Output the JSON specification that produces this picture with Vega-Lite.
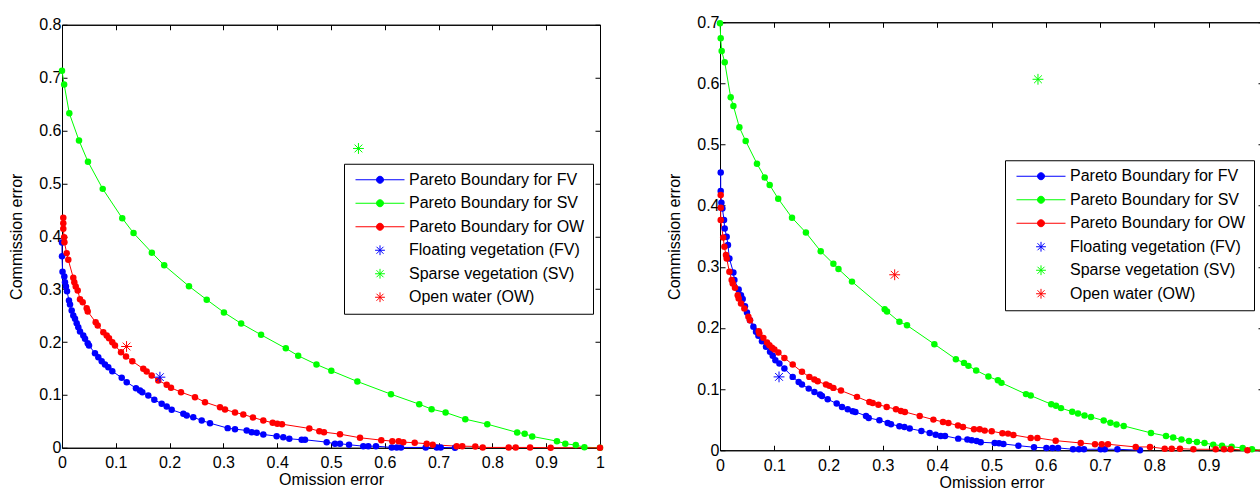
{
"$schema":"https://vega.github.io/schema/vega-lite/v6.json",
"background":"white",
"padding":{"left":8,"top":13,"right":0,"bottom":0},
"config":{
"font":"Liberation Sans",
"view":{"stroke":"black","strokeWidth":1},
"axis":{"grid":false,"labelFont":"Liberation Sans","labelFontSize":16,"labelColor":"black","titleFont":"Liberation Sans","titleFontSize":16,"titleFontWeight":"normal","titleColor":"black","domainColor":"black","tickColor":"black","tickSize":-5,"format":"~g","labelFlush":false,"labelOverlap":false},
"axisX":{"labelPadding":12,"titlePadding":1},
"axisY":{"labelPadding":6,"titlePadding":14},
"legend":{"labelFont":"Liberation Sans","labelFontSize":16,"labelColor":"black","labelLimit":400,"strokeColor":"black","fillColor":"white","padding":8,"rowPadding":7.5,"symbolSize":196,"symbolOffset":20,"labelOffset":21,"symbolStrokeWidth":1}
},
"datasets":{
"left":[
{"s":"PFV","x":0,"y":0.388},{"s":"PFV","x":0,"y":0.362},{"s":"PFV","x":0.001,"y":0.333},{"s":"PFV","x":0.0043,"y":0.3238},{"s":"PFV","x":0.0056,"y":0.313},{"s":"PFV","x":0.0074,"y":0.305},{"s":"PFV","x":0.0093,"y":0.296},{"s":"PFV","x":0.013,"y":0.2785},{"s":"PFV","x":0.0149,"y":0.2709},{"s":"PFV","x":0.018,"y":0.2595},{"s":"PFV","x":0.021,"y":0.2501},{"s":"PFV","x":0.0242,"y":0.2439},{"s":"PFV","x":0.0273,"y":0.2355},{"s":"PFV","x":0.0303,"y":0.228},{"s":"PFV","x":0.0335,"y":0.2198},{"s":"PFV","x":0.0396,"y":0.2122},{"s":"PFV","x":0.0428,"y":0.206},{"s":"PFV","x":0.0478,"y":0.1977},{"s":"PFV","x":0.0502,"y":0.1934},{"s":"PFV","x":0.0613,"y":0.1788},{"s":"PFV","x":0.0675,"y":0.1713},{"s":"PFV","x":0.0738,"y":0.1637},{"s":"PFV","x":0.0799,"y":0.1575},{"s":"PFV","x":0.0861,"y":0.1524},{"s":"PFV","x":0.0935,"y":0.1448},{"s":"PFV","x":0.111,"y":0.1323},{"s":"PFV","x":0.1203,"y":0.124},{"s":"PFV","x":0.1375,"y":0.1127},{"s":"PFV","x":0.145,"y":0.1083},{"s":"PFV","x":0.1493,"y":0.1051},{"s":"PFV","x":0.1604,"y":0.0989},{"s":"PFV","x":0.1716,"y":0.0907},{"s":"PFV","x":0.1853,"y":0.0832},{"s":"PFV","x":0.1946,"y":0.0781},{"s":"PFV","x":0.2039,"y":0.0718},{"s":"PFV","x":0.2255,"y":0.0643},{"s":"PFV","x":0.2318,"y":0.0611},{"s":"PFV","x":0.244,"y":0.0578},{"s":"PFV","x":0.2597,"y":0.0516},{"s":"PFV","x":0.2751,"y":0.0465},{"s":"PFV","x":0.308,"y":0.0371},{"s":"PFV","x":0.3216,"y":0.0352},{"s":"PFV","x":0.3433,"y":0.0327},{"s":"PFV","x":0.3526,"y":0.0295},{"s":"PFV","x":0.3619,"y":0.0284},{"s":"PFV","x":0.3742,"y":0.0251},{"s":"PFV","x":0.399,"y":0.0219},{"s":"PFV","x":0.4113,"y":0.02},{"s":"PFV","x":0.4225,"y":0.017},{"s":"PFV","x":0.4455,"y":0.0151},{"s":"PFV","x":0.4517,"y":0.0151},{"s":"PFV","x":0.492,"y":0.0106},{"s":"PFV","x":0.5074,"y":0.0076},{"s":"PFV","x":0.5167,"y":0.0076},{"s":"PFV","x":0.5335,"y":0.0057},{"s":"PFV","x":0.56,"y":0.003},{"s":"PFV","x":0.5693,"y":0.003},{"s":"PFV","x":0.5836,"y":0.003},{"s":"PFV","x":0.6128,"y":0.0006},{"s":"PFV","x":0.6221,"y":0.0006},{"s":"PFV","x":0.6301,"y":0.0006},{"s":"PFV","x":0.676,"y":0.0006},{"s":"PFV","x":0.6965,"y":0.0006},{"s":"PFV","x":0.7039,"y":0.0006},{"s":"PFV","x":0.7305,"y":0},
{"s":"PSV","x":0,"y":0.713},{"s":"PSV","x":0.004,"y":0.687},{"s":"PSV","x":0.0136,"y":0.6325},{"s":"PSV","x":0.0316,"y":0.581},{"s":"PSV","x":0.0483,"y":0.541},{"s":"PSV","x":0.0757,"y":0.4896},{"s":"PSV","x":0.112,"y":0.434},{"s":"PSV","x":0.133,"y":0.406},{"s":"PSV","x":0.167,"y":0.369},{"s":"PSV","x":0.19,"y":0.345},{"s":"PSV","x":0.236,"y":0.3055},{"s":"PSV","x":0.269,"y":0.28},{"s":"PSV","x":0.301,"y":0.256},{"s":"PSV","x":0.333,"y":0.235},{"s":"PSV","x":0.37,"y":0.2136},{"s":"PSV","x":0.416,"y":0.188},{"s":"PSV","x":0.439,"y":0.174},{"s":"PSV","x":0.473,"y":0.1575},{"s":"PSV","x":0.5006,"y":0.1456},{"s":"PSV","x":0.549,"y":0.1253},{"s":"PSV","x":0.6115,"y":0.1013},{"s":"PSV","x":0.664,"y":0.0824},{"s":"PSV","x":0.687,"y":0.073},{"s":"PSV","x":0.713,"y":0.0667},{"s":"PSV","x":0.7496,"y":0.054},{"s":"PSV","x":0.7905,"y":0.0446},{"s":"PSV","x":0.846,"y":0.029},{"s":"PSV","x":0.86,"y":0.0265},{"s":"PSV","x":0.874,"y":0.0214},{"s":"PSV","x":0.92,"y":0.0125},{"s":"PSV","x":0.9355,"y":0.0076},{"s":"PSV","x":0.955,"y":0.005},{"s":"PSV","x":0.971,"y":0.001},{"s":"PSV","x":1,"y":0},
{"s":"POW","x":0.0024,"y":0.4348},{"s":"POW","x":0.0024,"y":0.4246},{"s":"POW","x":0.0024,"y":0.414},{"s":"POW","x":0.004,"y":0.398},{"s":"POW","x":0.0045,"y":0.3887},{"s":"POW","x":0.0087,"y":0.368},{"s":"POW","x":0.0117,"y":0.3554},{"s":"POW","x":0.021,"y":0.3214},{"s":"POW","x":0.0229,"y":0.313},{"s":"POW","x":0.0255,"y":0.305},{"s":"POW","x":0.0292,"y":0.2974},{"s":"POW","x":0.0335,"y":0.281},{"s":"POW","x":0.0385,"y":0.2752},{"s":"POW","x":0.0459,"y":0.2639},{"s":"POW","x":0.0478,"y":0.2577},{"s":"POW","x":0.0626,"y":0.2374},{"s":"POW","x":0.0664,"y":0.2312},{"s":"POW","x":0.0768,"y":0.2185},{"s":"POW","x":0.0831,"y":0.2123},{"s":"POW","x":0.0874,"y":0.2072},{"s":"POW","x":0.0935,"y":0.1996},{"s":"POW","x":0.0985,"y":0.1934},{"s":"POW","x":0.1097,"y":0.1807},{"s":"POW","x":0.119,"y":0.1726},{"s":"POW","x":0.1307,"y":0.1637},{"s":"POW","x":0.1511,"y":0.1493},{"s":"POW","x":0.1574,"y":0.1442},{"s":"POW","x":0.1667,"y":0.1367},{"s":"POW","x":0.179,"y":0.1272},{"s":"POW","x":0.1946,"y":0.1191},{"s":"POW","x":0.2026,"y":0.1134},{"s":"POW","x":0.2212,"y":0.1051},{"s":"POW","x":0.2472,"y":0.0957},{"s":"POW","x":0.2658,"y":0.0862},{"s":"POW","x":0.2937,"y":0.0768},{"s":"POW","x":0.303,"y":0.0724},{"s":"POW","x":0.3216,"y":0.0667},{"s":"POW","x":0.337,"y":0.063},{"s":"POW","x":0.355,"y":0.0573},{"s":"POW","x":0.3742,"y":0.0516},{"s":"POW","x":0.3916,"y":0.0473},{"s":"POW","x":0.4002,"y":0.0454},{"s":"POW","x":0.4089,"y":0.0446},{"s":"POW","x":0.4597,"y":0.0365},{"s":"POW","x":0.4783,"y":0.0314},{"s":"POW","x":0.487,"y":0.0295},{"s":"POW","x":0.5167,"y":0.0257},{"s":"POW","x":0.5539,"y":0.0189},{"s":"POW","x":0.5935,"y":0.0144},{"s":"POW","x":0.614,"y":0.0125},{"s":"POW","x":0.6258,"y":0.0125},{"s":"POW","x":0.6344,"y":0.0106},{"s":"POW","x":0.6556,"y":0.0095},{"s":"POW","x":0.6779,"y":0.0076},{"s":"POW","x":0.689,"y":0.0057},{"s":"POW","x":0.7336,"y":0.003},{"s":"POW","x":0.744,"y":0.003},{"s":"POW","x":0.7682,"y":0.0025},{"s":"POW","x":0.782,"y":0.0006},{"s":"POW","x":0.8303,"y":0.0006},{"s":"POW","x":0.8433,"y":0.0006},{"s":"POW","x":0.87,"y":0.0006},{"s":"POW","x":0.9083,"y":0},{"s":"POW","x":1,"y":0},
{"s":"FV","x":0.182,"y":0.1335},{"s":"SV","x":0.551,"y":0.566},{"s":"OW","x":0.12,"y":0.1915}
],
"right":[
{"s":"PFV","x":0.0013,"y":0.4544},{"s":"PFV","x":0.0013,"y":0.424},{"s":"PFV","x":0.0026,"y":0.4048},{"s":"PFV","x":0.0044,"y":0.3955},{"s":"PFV","x":0.0074,"y":0.3765},{"s":"PFV","x":0.0087,"y":0.3627},{"s":"PFV","x":0.0123,"y":0.3492},{"s":"PFV","x":0.0147,"y":0.3356},{"s":"PFV","x":0.0173,"y":0.3136},{"s":"PFV","x":0.0247,"y":0.2907},{"s":"PFV","x":0.0265,"y":0.2783},{"s":"PFV","x":0.0344,"y":0.2629},{"s":"PFV","x":0.0387,"y":0.2537},{"s":"PFV","x":0.0418,"y":0.2472},{"s":"PFV","x":0.046,"y":0.2357},{"s":"PFV","x":0.0497,"y":0.2252},{"s":"PFV","x":0.0552,"y":0.2128},{"s":"PFV","x":0.0615,"y":0.2018},{"s":"PFV","x":0.0663,"y":0.1937},{"s":"PFV","x":0.0707,"y":0.1871},{"s":"PFV","x":0.0773,"y":0.1784},{"s":"PFV","x":0.0847,"y":0.1691},{"s":"PFV","x":0.0921,"y":0.1609},{"s":"PFV","x":0.0971,"y":0.1544},{"s":"PFV","x":0.102,"y":0.1473},{"s":"PFV","x":0.1094,"y":0.1418},{"s":"PFV","x":0.1186,"y":0.1336},{"s":"PFV","x":0.1339,"y":0.12},{"s":"PFV","x":0.1449,"y":0.1118},{"s":"PFV","x":0.151,"y":0.1074},{"s":"PFV","x":0.1634,"y":0.1008},{"s":"PFV","x":0.1739,"y":0.0954},{"s":"PFV","x":0.1842,"y":0.091},{"s":"PFV","x":0.1878,"y":0.0889},{"s":"PFV","x":0.1983,"y":0.0835},{"s":"PFV","x":0.2149,"y":0.0763},{"s":"PFV","x":0.2247,"y":0.0709},{"s":"PFV","x":0.2352,"y":0.0671},{"s":"PFV","x":0.2444,"y":0.0638},{"s":"PFV","x":0.2494,"y":0.0627},{"s":"PFV","x":0.2689,"y":0.0561},{"s":"PFV","x":0.2739,"y":0.0529},{"s":"PFV","x":0.2936,"y":0.0491},{"s":"PFV","x":0.3088,"y":0.0447},{"s":"PFV","x":0.3149,"y":0.0426},{"s":"PFV","x":0.3304,"y":0.0393},{"s":"PFV","x":0.3396,"y":0.0382},{"s":"PFV","x":0.3494,"y":0.0354},{"s":"PFV","x":0.3709,"y":0.0316},{"s":"PFV","x":0.3862,"y":0.0283},{"s":"PFV","x":0.3972,"y":0.0255},{"s":"PFV","x":0.4065,"y":0.0234},{"s":"PFV","x":0.4144,"y":0.0234},{"s":"PFV","x":0.4387,"y":0.019},{"s":"PFV","x":0.4556,"y":0.0174},{"s":"PFV","x":0.4635,"y":0.0164},{"s":"PFV","x":0.4727,"y":0.0152},{"s":"PFV","x":0.4801,"y":0.0131},{"s":"PFV","x":0.5059,"y":0.0119},{"s":"PFV","x":0.5138,"y":0.0114},{"s":"PFV","x":0.5219,"y":0.0103},{"s":"PFV","x":0.5495,"y":0.0075},{"s":"PFV","x":0.5783,"y":0.0049},{"s":"PFV","x":0.6011,"y":0.0038},{"s":"PFV","x":0.6122,"y":0.0038},{"s":"PFV","x":0.6225,"y":0.0038},{"s":"PFV","x":0.6501,"y":0.0016},{"s":"PFV","x":0.6611,"y":0.0016},{"s":"PFV","x":0.6703,"y":0.0016},{"s":"PFV","x":0.7011,"y":0.0016},{"s":"PFV","x":0.7085,"y":0.0016},{"s":"PFV","x":0.7319,"y":0.0016},{"s":"PFV","x":0.7735,"y":0},
{"s":"PSV","x":0,"y":0.6983},{"s":"PSV","x":0.0013,"y":0.6738},{"s":"PSV","x":0.0031,"y":0.6531},{"s":"PSV","x":0.0087,"y":0.6345},{"s":"PSV","x":0.0197,"y":0.5772},{"s":"PSV","x":0.0247,"y":0.5631},{"s":"PSV","x":0.0357,"y":0.5281},{"s":"PSV","x":0.0473,"y":0.5058},{"s":"PSV","x":0.0681,"y":0.4687},{"s":"PSV","x":0.0823,"y":0.4462},{"s":"PSV","x":0.0915,"y":0.4338},{"s":"PSV","x":0.1072,"y":0.4114},{"s":"PSV","x":0.1326,"y":0.3803},{"s":"PSV","x":0.1582,"y":0.356},{"s":"PSV","x":0.1855,"y":0.3254},{"s":"PSV","x":0.2088,"y":0.305},{"s":"PSV","x":0.2182,"y":0.2963},{"s":"PSV","x":0.2431,"y":0.2758},{"s":"PSV","x":0.3033,"y":0.2305},{"s":"PSV","x":0.3076,"y":0.2269},{"s":"PSV","x":0.3304,"y":0.21},{"s":"PSV","x":0.3444,"y":0.2043},{"s":"PSV","x":0.3948,"y":0.1735},{"s":"PSV","x":0.4344,"y":0.149},{"s":"PSV","x":0.4494,"y":0.1429},{"s":"PSV","x":0.4575,"y":0.138},{"s":"PSV","x":0.4718,"y":0.1306},{"s":"PSV","x":0.4943,"y":0.1205},{"s":"PSV","x":0.5118,"y":0.1143},{"s":"PSV","x":0.5184,"y":0.1102},{"s":"PSV","x":0.5635,"y":0.0918},{"s":"PSV","x":0.5722,"y":0.0894},{"s":"PSV","x":0.61,"y":0.0753},{"s":"PSV","x":0.6188,"y":0.0728},{"s":"PSV","x":0.628,"y":0.0689},{"s":"PSV","x":0.6486,"y":0.063},{"s":"PSV","x":0.6593,"y":0.0602},{"s":"PSV","x":0.6713,"y":0.057},{"s":"PSV","x":0.6832,"y":0.0545},{"s":"PSV","x":0.7066,"y":0.0485},{"s":"PSV","x":0.719,"y":0.045},{"s":"PSV","x":0.7302,"y":0.0422},{"s":"PSV","x":0.7435,"y":0.0398},{"s":"PSV","x":0.7937,"y":0.0283},{"s":"PSV","x":0.8214,"y":0.0234},{"s":"PSV","x":0.8346,"y":0.0209},{"s":"PSV","x":0.8499,"y":0.0174},{"s":"PSV","x":0.8637,"y":0.0152},{"s":"PSV","x":0.8783,"y":0.0136},{"s":"PSV","x":0.8923,"y":0.0119},{"s":"PSV","x":0.9083,"y":0.0092},{"s":"PSV","x":0.9245,"y":0.0074},{"s":"PSV","x":0.9423,"y":0.0057},{"s":"PSV","x":0.9626,"y":0.0038},{"s":"PSV","x":0.9797,"y":0.0018},{"s":"PSV","x":1,"y":0},
{"s":"POW","x":0.0013,"y":0.4174},{"s":"POW","x":0.0013,"y":0.3966},{"s":"POW","x":0.0013,"y":0.3765},{"s":"POW","x":0.0059,"y":0.3478},{"s":"POW","x":0.0081,"y":0.3328},{"s":"POW","x":0.011,"y":0.3192},{"s":"POW","x":0.0123,"y":0.3136},{"s":"POW","x":0.0173,"y":0.2919},{"s":"POW","x":0.0215,"y":0.2783},{"s":"POW","x":0.0234,"y":0.2727},{"s":"POW","x":0.0276,"y":0.2657},{"s":"POW","x":0.0326,"y":0.2537},{"s":"POW","x":0.0344,"y":0.2482},{"s":"POW","x":0.0387,"y":0.24},{"s":"POW","x":0.0449,"y":0.2318},{"s":"POW","x":0.0523,"y":0.2182},{"s":"POW","x":0.0552,"y":0.2128},{"s":"POW","x":0.0713,"y":0.1948},{"s":"POW","x":0.0726,"y":0.1909},{"s":"POW","x":0.0799,"y":0.1838},{"s":"POW","x":0.0866,"y":0.1761},{"s":"POW","x":0.091,"y":0.1719},{"s":"POW","x":0.0958,"y":0.1675},{"s":"POW","x":0.1002,"y":0.1647},{"s":"POW","x":0.1076,"y":0.16},{"s":"POW","x":0.1186,"y":0.151},{"s":"POW","x":0.1339,"y":0.1401},{"s":"POW","x":0.151,"y":0.1282},{"s":"POW","x":0.1646,"y":0.12},{"s":"POW","x":0.1738,"y":0.1156},{"s":"POW","x":0.1799,"y":0.1129},{"s":"POW","x":0.1952,"y":0.1074},{"s":"POW","x":0.2015,"y":0.1053},{"s":"POW","x":0.2088,"y":0.102},{"s":"POW","x":0.2228,"y":0.0976},{"s":"POW","x":0.2523,"y":0.0873},{"s":"POW","x":0.2751,"y":0.0791},{"s":"POW","x":0.2812,"y":0.0774},{"s":"POW","x":0.2917,"y":0.0746},{"s":"POW","x":0.307,"y":0.0709},{"s":"POW","x":0.3241,"y":0.0671},{"s":"POW","x":0.3332,"y":0.0643},{"s":"POW","x":0.3405,"y":0.0627},{"s":"POW","x":0.3678,"y":0.0561},{"s":"POW","x":0.393,"y":0.0501},{"s":"POW","x":0.4107,"y":0.0463},{"s":"POW","x":0.4206,"y":0.0447},{"s":"POW","x":0.4383,"y":0.0403},{"s":"POW","x":0.4475,"y":0.0382},{"s":"POW","x":0.4678,"y":0.0344},{"s":"POW","x":0.4783,"y":0.0344},{"s":"POW","x":0.4875,"y":0.0321},{"s":"POW","x":0.5004,"y":0.0311},{"s":"POW","x":0.5201,"y":0.0278},{"s":"POW","x":0.5304,"y":0.0272},{"s":"POW","x":0.5403,"y":0.025},{"s":"POW","x":0.5722,"y":0.0201},{"s":"POW","x":0.5845,"y":0.0201},{"s":"POW","x":0.6182,"y":0.0157},{"s":"POW","x":0.6643,"y":0.0119},{"s":"POW","x":0.6906,"y":0.0098},{"s":"POW","x":0.703,"y":0.0098},{"s":"POW","x":0.7145,"y":0.0098},{"s":"POW","x":0.7656,"y":0.0054},{"s":"POW","x":0.7919,"y":0.0054},{"s":"POW","x":0.819,"y":0.0026},{"s":"POW","x":0.8319,"y":0.0026},{"s":"POW","x":0.8471,"y":0.0026},{"s":"POW","x":0.8718,"y":0.0016},{"s":"POW","x":0.9129,"y":0.0016},{"s":"POW","x":0.9282,"y":0.0016},{"s":"POW","x":0.9405,"y":0.0016},{"s":"POW","x":0.9713,"y":0},{"s":"POW","x":1,"y":0},
{"s":"FV","x":0.1087,"y":0.12},{"s":"SV","x":0.5856,"y":0.6067},{"s":"OW","x":0.3217,"y":0.287}
]
},
"hconcat":[
{
"name":"L",
"width":538,"height":423,
"data":{"name":"left"},
"resolve":{"axis":{"x":"independent","y":"independent"}},
"layer":[
{"transform":[{"filter":{"field":"s","oneOf":["PFV","PSV","POW"]}}],
"mark":{"type":"line","strokeWidth":1},
"encoding":{
"x":{"field":"x","type":"quantitative","scale":{"domain":[0,1]},"axis":{"values":[0,0.1,0.2,0.3,0.4,0.5,0.6,0.7,0.8,0.9,1],"title":"Omission error"}},
"y":{"field":"y","type":"quantitative","scale":{"domain":[0,0.8]},"axis":{"values":[0,0.1,0.2,0.3,0.4,0.5,0.6,0.7,0.8],"title":"Commission error"}},
"color":{"field":"s","type":"nominal","scale":{"domain":["PFV","PSV","POW","FV","SV","OW"],"range":["#0000ff","#00ff00","#ff0000","#0000ff","#00ff00","#ff0000"]},
"legend":{"title":null,"orient":"none","legendX":282,"legendY":139,
"labelExpr":"datum.value==='PFV'?'Pareto Boundary for FV':datum.value==='PSV'?'Pareto Boundary for SV':datum.value==='POW'?'Pareto Boundary for OW':datum.value==='FV'?'Floating vegetation (FV)':datum.value==='SV'?'Sparse vegetation (SV)':'Open water (OW)'",
"encode":{"symbols":{"update":{"fill":{"scale":"L_color","field":"value"},"stroke":{"scale":"L_color","field":"value"},"shape":{"scale":"L_shape","field":"value"},"opacity":{"value":1},"strokeWidth":{"value":1}}}}}}
}},
{"transform":[{"filter":{"field":"s","oneOf":["PFV","PSV","POW"]}}],
"mark":{"type":"point","shape":"circle","filled":true,"size":42,"opacity":1},
"encoding":{
"x":{"field":"x","type":"quantitative","axis":{"orient":"top","labels":false,"title":null,"values":[0,0.1,0.2,0.3,0.4,0.5,0.6,0.7,0.8,0.9,1]}},
"y":{"field":"y","type":"quantitative","axis":{"orient":"right","labels":false,"title":null,"values":[0,0.1,0.2,0.3,0.4,0.5,0.6,0.7,0.8]}},
"color":{"field":"s","type":"nominal","legend":null}
}},
{"transform":[{"filter":{"field":"s","oneOf":["FV","SV","OW"]}}],
"mark":{"type":"point","filled":false,"size":240,"strokeWidth":1,"opacity":1},
"encoding":{
"x":{"field":"x","type":"quantitative","axis":null},
"y":{"field":"y","type":"quantitative","axis":null},
"color":{"field":"s","type":"nominal","legend":null},
"shape":{"field":"s","type":"nominal","legend":null,"scale":{"domain":["PFV","PSV","POW","FV","SV","OW"],"range":["M-3.5,0L3.5,0M-0.5,0A0.5,0.5,0,1,1,0.5,0A0.5,0.5,0,1,1,-0.5,0Z","M-3.5,0L3.5,0M-0.5,0A0.5,0.5,0,1,1,0.5,0A0.5,0.5,0,1,1,-0.5,0Z","M-3.5,0L3.5,0M-0.5,0A0.5,0.5,0,1,1,0.5,0A0.5,0.5,0,1,1,-0.5,0Z","M-0.7,0L0.7,0M0,-0.7L0,0.7M-0.5,-0.5L0.5,0.5M-0.5,0.5L0.5,-0.5","M-0.7,0L0.7,0M0,-0.7L0,0.7M-0.5,-0.5L0.5,0.5M-0.5,0.5L0.5,-0.5","M-0.7,0L0.7,0M0,-0.7L0,0.7M-0.5,-0.5L0.5,0.5M-0.5,0.5L0.5,-0.5"]}}
}}
]
},
{
"name":"R",
"width":543,"height":428,
"data":{"name":"right"},
"resolve":{"axis":{"x":"independent","y":"independent"}},
"layer":[
{"transform":[{"filter":{"field":"s","oneOf":["PFV","PSV","POW"]}}],
"mark":{"type":"line","strokeWidth":1},
"encoding":{
"x":{"field":"x","type":"quantitative","scale":{"domain":[0,1]},"axis":{"values":[0,0.1,0.2,0.3,0.4,0.5,0.6,0.7,0.8,0.9],"title":"Omission error"}},
"y":{"field":"y","type":"quantitative","scale":{"domain":[0,0.7]},"axis":{"values":[0,0.1,0.2,0.3,0.4,0.5,0.6,0.7],"title":"Commission error"}},
"color":{"field":"s","type":"nominal","scale":{"domain":["PFV","PSV","POW","FV","SV","OW"],"range":["#0000ff","#00ff00","#ff0000","#0000ff","#00ff00","#ff0000"]},
"legend":{"title":null,"orient":"none","legendX":285,"legendY":138,
"labelExpr":"datum.value==='PFV'?'Pareto Boundary for FV':datum.value==='PSV'?'Pareto Boundary for SV':datum.value==='POW'?'Pareto Boundary for OW':datum.value==='FV'?'Floating vegetation (FV)':datum.value==='SV'?'Sparse vegetation (SV)':'Open water (OW)'",
"encode":{"symbols":{"update":{"fill":{"scale":"R_color","field":"value"},"stroke":{"scale":"R_color","field":"value"},"shape":{"scale":"R_shape","field":"value"},"opacity":{"value":1},"strokeWidth":{"value":1}}}}}}
}},
{"transform":[{"filter":{"field":"s","oneOf":["PFV","PSV","POW"]}}],
"mark":{"type":"point","shape":"circle","filled":true,"size":42,"opacity":1},
"encoding":{
"x":{"field":"x","type":"quantitative","axis":{"orient":"top","labels":false,"title":null,"values":[0,0.1,0.2,0.3,0.4,0.5,0.6,0.7,0.8,0.9,1]}},
"y":{"field":"y","type":"quantitative","axis":{"orient":"right","labels":false,"title":null,"values":[0,0.1,0.2,0.3,0.4,0.5,0.6,0.7]}},
"color":{"field":"s","type":"nominal","legend":null}
}},
{"transform":[{"filter":{"field":"s","oneOf":["FV","SV","OW"]}}],
"mark":{"type":"point","filled":false,"size":240,"strokeWidth":1,"opacity":1},
"encoding":{
"x":{"field":"x","type":"quantitative","axis":null},
"y":{"field":"y","type":"quantitative","axis":null},
"color":{"field":"s","type":"nominal","legend":null},
"shape":{"field":"s","type":"nominal","legend":null,"scale":{"domain":["PFV","PSV","POW","FV","SV","OW"],"range":["M-3.5,0L3.5,0M-0.5,0A0.5,0.5,0,1,1,0.5,0A0.5,0.5,0,1,1,-0.5,0Z","M-3.5,0L3.5,0M-0.5,0A0.5,0.5,0,1,1,0.5,0A0.5,0.5,0,1,1,-0.5,0Z","M-3.5,0L3.5,0M-0.5,0A0.5,0.5,0,1,1,0.5,0A0.5,0.5,0,1,1,-0.5,0Z","M-0.7,0L0.7,0M0,-0.7L0,0.7M-0.5,-0.5L0.5,0.5M-0.5,0.5L0.5,-0.5","M-0.7,0L0.7,0M0,-0.7L0,0.7M-0.5,-0.5L0.5,0.5M-0.5,0.5L0.5,-0.5","M-0.7,0L0.7,0M0,-0.7L0,0.7M-0.5,-0.5L0.5,0.5M-0.5,0.5L0.5,-0.5"]}}
}}
]
}
],
"spacing":61,
"center":true,
"resolve":{"scale":{"color":"independent","shape":"independent","x":"independent","y":"independent"}}
}
